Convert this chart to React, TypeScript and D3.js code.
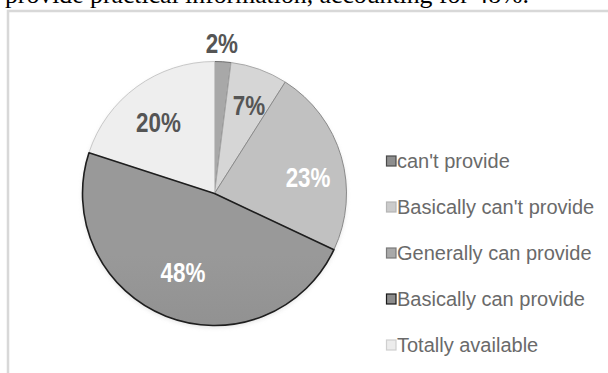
import React from "react";
import * as d3 from "d3";

const categories = [
  "can't provide",
  "Basically can't provide",
  "Generally can provide",
  "Basically can provide",
  "Totally available",
];
const values = [2, 7, 23, 48, 20];
const labels = ["2%", "7%", "23%", "48%", "20%"];
const headerText = "provide practical information, accounting for 48%.";

// styling (not data)
const fillTop = ["#a8a8a8", "#d6d6d6", "#c1c1c1", "#999999", "#eeeeee"];
const fillBottom = ["#a0a0a0", "#cccccc", "#acacac", "#7d7d7d", "#e3e3e3"];
const strokeCols = ["#6e6e6e", "#a8a8a8", "#8a8a8a", "#1e1e1e", "#c8c8c8"];
const legendFill = ["#8e8e8e", "#cbcbcb", "#a9a9a9", "#8c8c8c", "#ececec"];
const legendStroke = ["#4a4a4a", "#b5b5b5", "#7a7a7a", "#1a1a1a", "#cfcfcf"];
const labelColors = ["#555555", "#555555", "#ffffff", "#ffffff", "#555555"];
// label placement: radius factor and angle shift in degrees
const labelRadius = [1.14, 0.72, 0.72, 0.64, 0.69];
const labelShift = [-0.8, 1.5, 6, 0.3, -2];

const W = 608;
const H = 373;
const cx = 214.5;
const cy = 193.5;
const R = 132;

export default function App() {
  const pie = d3.pie<number>().sort(null).startAngle(0).endAngle(2 * Math.PI);
  const arcs = pie(values);
  const arc = d3.arc<d3.PieArcDatum<number>>().innerRadius(0).outerRadius(R);

  const legendY = d3
    .scalePoint<string>()
    .domain(categories)
    .range([161, 345]);

  const order = [0, 1, 2, 4, 3];

  return (
    <div style={{ position: "absolute", left: 0, top: 0 }}>
      <svg width={W} height={H} style={{ display: "block", background: "#fff" }}>
        <defs>
          {values.map((_, i) => (
            <linearGradient
              key={i}
              id={`g${i}`}
              gradientUnits="userSpaceOnUse"
              x1={0}
              y1={cy - R}
              x2={0}
              y2={cy + R}
            >
              <stop offset="0%" stopColor={fillTop[i]} />
              <stop offset="100%" stopColor={fillBottom[i]} />
            </linearGradient>
          ))}
          <filter id="sh" x="-20%" y="-20%" width="140%" height="140%">
            <feGaussianBlur stdDeviation="2" />
          </filter>
        </defs>
        <text
          x={5}
          y={3}
          fontFamily="'Liberation Serif', 'Times New Roman', serif"
          fontSize={25}
          fill="#000"
          textLength={524}
          lengthAdjust="spacingAndGlyphs"
        >
          {headerText}
        </text>
        <line x1={7} x2={W} y1={11} y2={11} stroke="#d8d8d8" strokeWidth={2.5} />
        <line x1={8} x2={8} y1={10} y2={H} stroke="#d8d8d8" strokeWidth={2.5} />

        <g transform={`translate(${cx},${cy})`}>
          <circle cx={0} cy={2} r={R} fill="#d0d0d0" filter="url(#sh)" opacity={0.6} />
          {order.map((i) => (
            <path
              key={i}
              d={arc(arcs[i]) || ""}
              fill={`url(#g${i})`}
              stroke={strokeCols[i]}
              strokeWidth={i === 3 ? 1.6 : 1}
              strokeLinejoin="round"
            />
          ))}
          {arcs.map((a, i) => {
            const ang = (a.startAngle + a.endAngle) / 2 + (labelShift[i] * Math.PI) / 180;
            const rr = R * labelRadius[i];
            const x = Math.sin(ang) * rr;
            const y = -Math.cos(ang) * rr;
            return (
              <text
                key={i}
                transform={`translate(${x},${y}) scale(0.8,1)`}
                textAnchor="middle"
                dy="0.36em"
                fontFamily="'Liberation Sans', Arial, sans-serif"
                fontWeight="bold"
                fontSize={28}
                fill={labelColors[i]}
              >
                {labels[i]}
              </text>
            );
          })}
        </g>

        {categories.map((c, i) => {
          const y = legendY(c) || 0;
          return (
            <g key={c}>
              <rect
                x={386.5}
                y={y - 5}
                width={9.5}
                height={10}
                fill={legendFill[i]}
                stroke={legendStroke[i]}
                strokeWidth={1.2}
              />
              <text
                x={397}
                y={y}
                dy="0.36em"
                fontFamily="'Liberation Sans', Arial, sans-serif"
                fontSize={20}
                fill="#6a6a6a"
              >
                {c}
              </text>
            </g>
          );
        })}
      </svg>
    </div>
  );
}
